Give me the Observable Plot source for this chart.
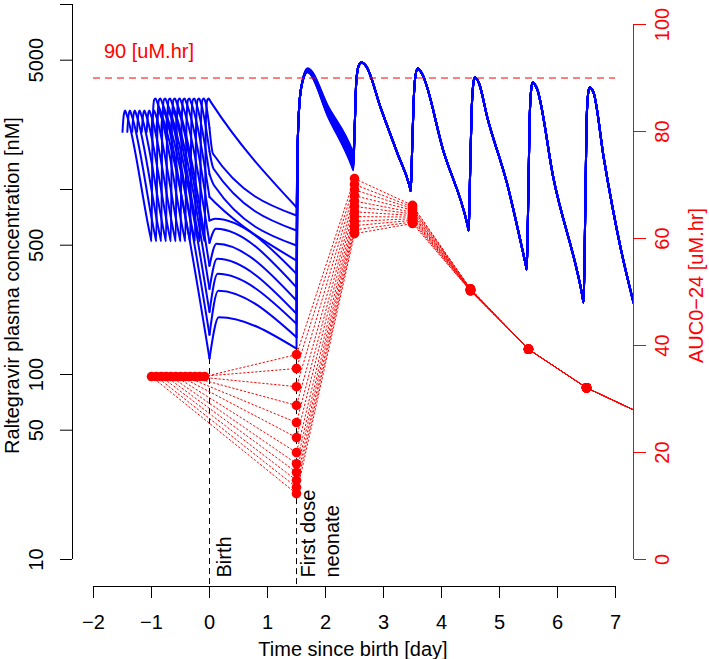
<!DOCTYPE html>
<html><head><meta charset="utf-8">
<script src="https://cdn.jsdelivr.net/npm/d3@7"></script>
<script src="https://cdn.jsdelivr.net/npm/@observablehq/plot@0.6"></script>
<style>body{margin:0;background:#fff} svg{display:block}</style>
</head><body><div id="chart"></div>
<script>
// ---------------- data ----------------
const xTicks = [-2, -1, 0, 1, 2, 3, 4, 5, 6, 7];
const concTicks = [10, 50, 100, 500, 1000, 5000, 10000];
const concTickLabels = [10, 50, 100, 500, 5000];
const aucTicks = [0, 20, 40, 60, 80, 100];
const aucThreshold = 90;

// maternal dosing: day of first maternal dose for each of 12 scenarios
const maternalStart = [-1.5, -1.417, -1.333, -1.25, -1.167, -1.083, -1.0, -0.917, -0.833, -0.75, -0.667, -0.583];
// maternal profile after that dose (day offset, nM)
const maternalDay  = [0, 0.02, 0.045, 0.07, 0.48, 0.5, 0.52, 0.545, 0.57, 0.6];
const maternalConc = [2050, 2500, 2670, 2550, 560, 525, 2300, 3050, 3100, 2950];
// neonatal concentration at birth (day 0)
const birthConc = [122, 164, 218, 290, 387, 515, 680, 910, 1210, 1610, 2150, 3050];
// post-birth bump / shoulder
const bumpDay  = [0.16, 0.15, 0.14, 0.13, 0.12, 0.11, 0.10, 0.09, 0.08, 0.07, 0.06, 0.03];
const bumpConc = [204, 284, 350, 422, 509, 613, 695, 854, 1051, 1294, 1560, 2950];
// concentration at first neonatal dose (day 1.5)
const day15Conc = [138, 159, 188, 213, 251, 296, 350, 413, 498, 600, 723, 802];
// first neonatal dose
const neoRiseDay  = [1.52, 1.55, 1.6];
const neoRiseConc = [1700, 2900, 3800];
const neoPeakDay = 1.69;
const neoPeakConc = [4300, 4310, 4330, 4350, 4370, 4390, 4400, 4420, 4440, 4470, 4490, 4520];
const neoMidDay = 2.05;
const neoMidConc = [2450, 2480, 2500, 2530, 2560, 2590, 2620, 2650, 2690, 2720, 2760, 2790];
const day25Conc = [1270, 1290, 1320, 1340, 1370, 1400, 1420, 1450, 1480, 1510, 1540, 1565];
// following neonatal doses (common to all scenarios)
const tailDay  = [2.5, 2.53, 2.57, 2.62, 2.7, 2.95, 3.24, 3.45, 3.47, 3.49, 3.52, 3.55, 3.59, 3.66, 4.03, 4.45, 4.47, 4.49, 4.52, 4.54, 4.57, 4.64, 4.79, 5.13, 5.45, 5.47, 5.49, 5.52, 5.54, 5.57, 5.64, 5.93, 6.43, 6.45, 6.47, 6.5, 6.52, 6.55, 6.62, 6.8, 7.09, 7.31];
const tailConc = [2000, 3800, 4650, 4860, 4650, 2770, 1566, 1040, 980, 1500, 3000, 4100, 4510, 4250, 1625, 640, 600, 1100, 2700, 3500, 4030, 3800, 2450, 1077, 395, 370, 700, 2400, 3300, 3790, 3550, 1150, 265, 245, 500, 2200, 3100, 3560, 3350, 1466, 480, 245];

// AUC0-24 (uM.hr), right axis
const aucPrenatalDay = [-1, -0.917, -0.833, -0.75, -0.667, -0.583, -0.5, -0.417, -0.333, -0.25, -0.167, -0.083];
const aucPrenatal = [34.2, 34.2, 34.2, 34.2, 34.2, 34.2, 34.2, 34.2, 34.2, 34.2, 34.2, 34.2];
const aucDay = [1.5, 2.5, 3.5, 4.5, 5.5, 6.5, 7.5];
const auc15 = [12.3, 13.5, 14.8, 16.3, 17.9, 20.0, 22.8, 25.6, 28.8, 32.3, 35.7, 38.3];
const auc25 = [60.9, 61.6, 62.4, 63.2, 64.1, 65.0, 66.0, 67.0, 68.0, 69.1, 70.1, 71.2];
const auc35 = [62.8, 63.1, 63.4, 63.7, 64.0, 64.3, 64.6, 64.9, 65.3, 65.6, 65.9, 66.2];
const auc45 = [50.2, 50.2, 50.3, 50.3, 50.3, 50.4, 50.4, 50.4, 50.5, 50.5, 50.6, 50.6];
const auc55 = 39.3, auc65 = 32.1, auc75 = 27.0;

// ---------------- layout ----------------
const W = 709, H = 659;
const mLeft = 72, mRight = 76, mBottom = 73, mTop = 0;
const xPx = [93, 615];           // pixel position of day -2 and day 7
const yPx = [559, 4];            // pixel position of 10 nM and 10000 nM
const pxPerDay = (xPx[1] - xPx[0]) / 9;
const pxPerDecade = (yPx[0] - yPx[1]) / 3;
const aucTopPx = 24;             // AUC = 100 on the right axis
const aucToConc = a => 10 ** (1 + (a / 100) * ((yPx[0] - aucTopPx) / pxPerDecade));
const xLeftEdge = -2 - (xPx[0] - mLeft) / pxPerDay;
const xRightEdge = -2 + (W - mRight - xPx[0]) / pxPerDay;
const yBottom = 10 ** (1 - ((H - mBottom) - yPx[0]) / pxPerDecade);

// ---------------- build tables ----------------
const blue = [];
maternalStart.forEach((s, k) => {
  maternalDay.forEach((t, i) => { if (s + t < 0) blue.push({id: "m" + k, day: s + t, conc: maternalConc[i]}); });
  blue.push({id: "m" + k, day: 0, conc: birthConc[k]});
  blue.push({id: "n" + k, day: 0, conc: birthConc[k]});
  blue.push({id: "n" + k, day: bumpDay[k], conc: bumpConc[k]});
  blue.push({id: "n" + k, day: 1.5, conc: day15Conc[k]});
  const id = "d" + k;
  blue.push({id, day: 1.5, conc: day15Conc[k]});
  neoRiseDay.forEach((d, i) => blue.push({id, day: d, conc: neoRiseConc[i]}));
  blue.push({id, day: neoPeakDay, conc: neoPeakConc[k]});
  blue.push({id, day: neoMidDay, conc: neoMidConc[k]});
  blue.push({id, day: 2.46, conc: day25Conc[k] * 1.04});
  blue.push({id, day: 2.48, conc: day25Conc[k]});
  tailDay.forEach((d, i) => blue.push({id, day: d, conc: tailConc[i]}));
});

const red = [];
aucPrenatal.forEach((a, k) => {
  const vals = [auc15[k], auc25[k], auc35[k], auc45[k], auc55, auc65, auc75];
  red.push({id: k, day: aucPrenatalDay[k], auc: a});
  aucDay.forEach((d, i) => red.push({id: k, day: d, auc: vals[i]}));
});

const BLUE = "#0000FF", RED = "#FF0000", FONT = 20;
const rot = {rotate: -90, textAnchor: "middle", lineAnchor: "middle", fontSize: FONT};

const chart = Plot.plot({
  width: W, height: H,
  marginLeft: mLeft, marginRight: mRight, marginTop: mTop, marginBottom: mBottom,
  style: {fontFamily: "'Liberation Sans', Arial, Helvetica, sans-serif", fontSize: FONT + "px", background: "#fff", overflow: "visible"},
  x: {domain: [-2, 7], range: xPx},
  y: {type: "log", domain: [10, 10000], range: yPx},
  marks: [
    // left axis
    Plot.ruleX([xLeftEdge], {y1: 10, y2: 10000, stroke: "#000"}),
    Plot.axisY({anchor: "left", ticks: concTicks, tickSize: 12, tickFormat: () => "", label: null}),
    Plot.text(concTickLabels, {y: d => d, text: d => String(d), frameAnchor: "left", dx: -36, ...rot}),
    Plot.text(["Raltegravir plasma concentration [nM]"], {frameAnchor: "left", dx: -60, dy: -8, ...rot}),
    // right axis (AUC)
    Plot.ruleX([xRightEdge], {y1: aucToConc(0), y2: aucToConc(100), stroke: RED}),
    Plot.axisY({anchor: "right", ticks: aucTicks.map(aucToConc), tickSize: 12, tickFormat: () => "", stroke: RED, color: RED, label: null}),
    Plot.text(aucTicks, {y: d => aucToConc(d), text: d => String(d), frameAnchor: "right", dx: 29, fill: RED, ...rot}),
    Plot.text(["AUC0\u221224 [uM.hr]"], {frameAnchor: "right", dx: 63, dy: -8, fill: RED, ...rot}),
    // bottom axis
    Plot.ruleY([yBottom], {x1: -2, x2: 7, stroke: "#000"}),
    Plot.axisX({ticks: xTicks, tickSize: 12, tickPadding: 16, fontSize: FONT, label: null}),
    Plot.text(["Time since birth [day]"], {frameAnchor: "bottom", dy: 63, textAnchor: "middle", lineAnchor: "middle", fontSize: FONT}),
    // blue concentration curves
    Plot.line(blue, {x: "day", y: "conc", z: "id", stroke: BLUE, strokeWidth: 2, curve: "monotone-x", clip: true}),
    // threshold
    Plot.ruleY([aucToConc(aucThreshold)], {x1: -2, x2: 7, stroke: RED, strokeDasharray: "7,5"}),
    Plot.text([aucThreshold + " [uM.hr]"], {x: -1.82, y: aucToConc(95), textAnchor: "start", lineAnchor: "middle", fill: RED, fontSize: FONT}),
    // birth / first dose markers
    Plot.ruleX([0], {y1: birthConc[0], y2: yBottom, stroke: "#000", strokeDasharray: "6,4"}),
    Plot.ruleX([1.5], {y1: day15Conc[0], y2: yBottom, stroke: "#000", strokeDasharray: "6,4"}),
    Plot.text(["Birth"], {x: 0, y: yBottom, dx: 15, dy: -9, rotate: -90, textAnchor: "start", lineAnchor: "middle", fontSize: FONT}),
    Plot.text(["First dose"], {x: 1.5, y: yBottom, dx: 12, dy: -9, rotate: -90, textAnchor: "start", lineAnchor: "middle", fontSize: FONT}),
    Plot.text(["neonate"], {x: 1.5, y: yBottom, dx: 36, dy: -9, rotate: -90, textAnchor: "start", lineAnchor: "middle", fontSize: FONT}),
    // AUC series
    Plot.line(red, {x: "day", y: d => aucToConc(d.auc), z: "id", stroke: RED, strokeWidth: 1, strokeDasharray: "1.5,2.5", clip: true}),
    Plot.dot(red, {x: "day", y: d => aucToConc(d.auc), r: 4.8, fill: RED, stroke: "none", clip: true})
  ]
});
document.getElementById("chart").append(chart);
</script></body></html>
